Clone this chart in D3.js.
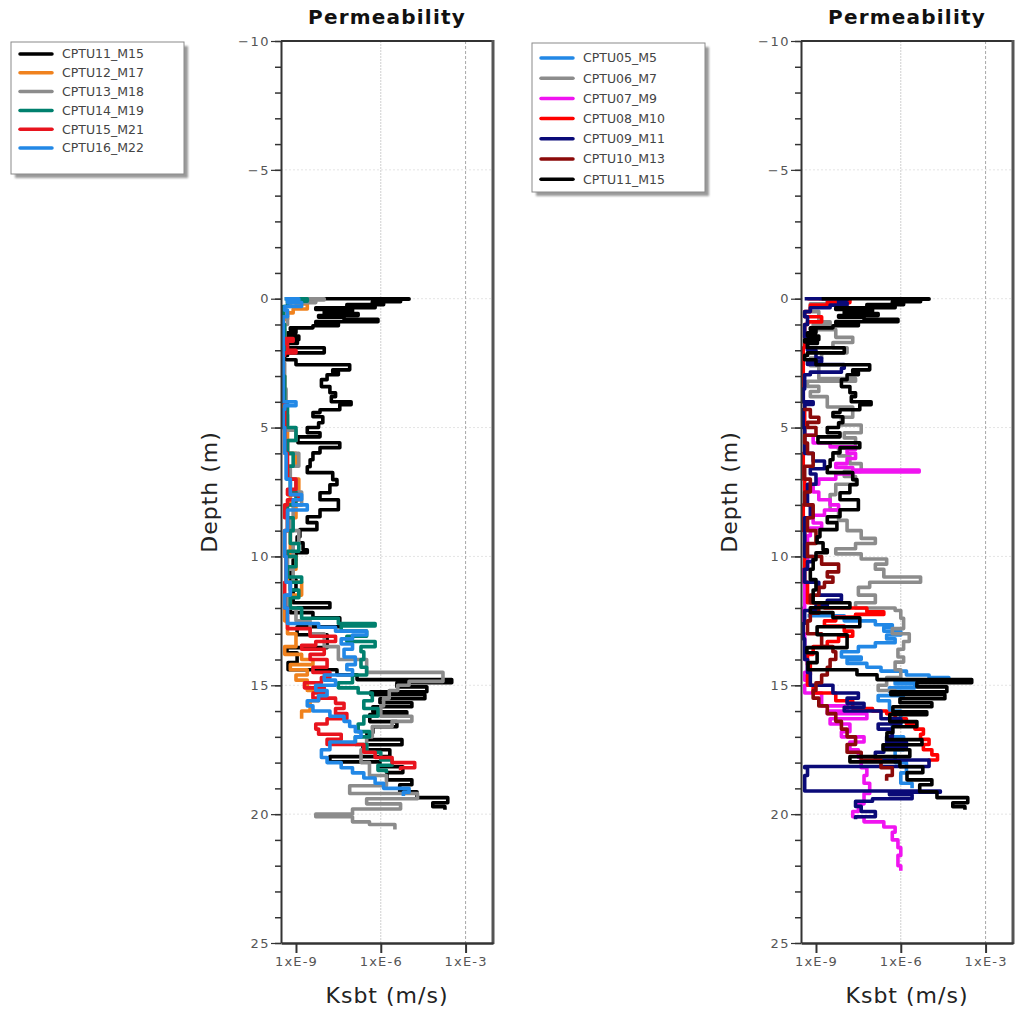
<!DOCTYPE html>
<html>
<head>
<meta charset="utf-8">
<script src="https://cdn.jsdelivr.net/npm/d3@7"></script>
<style>
body { margin: 0; background: #fff; }
text { font-family: 'DejaVu Sans', sans-serif; }
</style>
</head>
<body>
<svg id="chart" width="1015" height="1012"></svg>
<script>
const depthTicks = [-10, -5, 0, 5, 10, 15, 20, 25]
const kTicks = [1e-9, 1e-6, 1e-3]
const kTickLabels = ['1xE-9', '1xE-6', '1xE-3']
const kGrid = [1e-6, 1e-3]

// [depth (m), log10 Ksbt (m/s)]
const cptu11_M15 = [[0.0,-8.8],[0.02,-5.0],[0.08,-5.6],[0.12,-5.3],[0.18,-6.3],[0.23,-5.9],[0.3,-7.2],[0.35,-6.2],[0.42,-8.3],[0.5,-7.0],[0.58,-8.0],[0.65,-6.8],[0.72,-8.2],[0.8,-7.3],[0.89,-6.1],[0.95,-8.3],[1.05,-7.5],[1.13,-8.4],[1.2,-9.2],[1.32,-9.0],[1.45,-9.3],[1.59,-8.9],[1.68,-9.4],[1.74,-8.95],[1.9,-9.3],[2.1,-8.0],[2.2,-9.3],[2.37,-9.4],[2.56,-9.0],[2.76,-7.1],[2.85,-7.7],[2.95,-7.5],[3.14,-7.9],[3.41,-8.1],[3.65,-7.8],[3.8,-7.6],[4.0,-7.75],[4.11,-7.05],[4.31,-7.45],[4.42,-8.15],[4.58,-8.4],[4.81,-8.05],[5.0,-8.2],[5.2,-8.6],[5.36,-8.15],[5.59,-8.93],[5.78,-7.45],[5.98,-8.15],[6.25,-8.4],[6.52,-8.5],[6.75,-8.6],[7.02,-7.7],[7.22,-7.55],[7.53,-7.8],[7.8,-8.15],[8.19,-7.5],[8.46,-8.15],[8.69,-8.6],[8.96,-8.26],[9.24,-8.86],[9.47,-8.96],[9.74,-8.75],[9.86,-8.6],[10.13,-9.0],[10.5,-9.1],[10.9,-9.2],[11.3,-9.0],[11.8,-9.1],[11.99,-7.8],[12.18,-9.2],[12.38,-8.4],[12.73,-7.45],[13.04,-8.96],[13.54,-7.9],[13.74,-9.32],[14.12,-8.96],[14.4,-9.28],[14.59,-7.55],[14.78,-6.84],[14.9,-3.49],[15.06,-5.43],[15.25,-4.37],[15.37,-6.35],[15.52,-4.44],[15.68,-6.03],[15.83,-4.9],[16.03,-6.28],[16.14,-5.08],[16.41,-6.39],[16.61,-5.43],[16.84,-6.28],[17.11,-6.49],[17.31,-5.25],[17.5,-6.63],[17.77,-5.68],[17.97,-7.8],[18.16,-6.03],[18.39,-5.22],[18.67,-5.78],[18.86,-4.9],[19.13,-5.33],[19.36,-4.72],[19.56,-3.63],[19.71,-4.16],[19.83,-3.73]]

const cptu12_M17 = [[0,-9.3],[0.2,-9.0],[0.4,-8.6],[0.55,-9.1],[0.8,-9.3],[1.2,-9.45],[2.0,-9.4],[3.0,-9.45],[4.0,-9.4],[5.0,-9.45],[6.0,-9.3],[6.5,-9.0],[7.0,-9.3],[7.5,-8.9],[8.0,-9.2],[8.5,-9.0],[9.0,-9.3],[10.0,-9.2],[10.5,-9.0],[11.0,-9.3],[11.5,-8.8],[12.0,-9.2],[12.5,-9.4],[13.0,-9.3],[13.5,-9.0],[13.8,-9.4],[14.0,-8.8],[14.2,-8.4],[14.4,-9.2],[14.6,-8.6],[14.8,-9.0],[15.2,-8.6],[15.6,-8.2],[16.0,-8.5],[16.3,-8.8]]

const cptu13_M18 = [[0,-9.3],[0.05,-8.0],[0.15,-8.3],[0.3,-9.2],[0.6,-9.4],[1.0,-9.3],[1.5,-9.4],[2.5,-9.45],[3.5,-9.4],[4.5,-9.35],[4.9,-9.3],[5.1,-9.4],[5.5,-9.0],[6.0,-9.3],[6.5,-8.9],[7.0,-9.2],[7.5,-9.0],[8.0,-8.8],[8.5,-9.1],[9.0,-9.2],[9.5,-8.9],[10.0,-9.1],[10.5,-9.3],[11.0,-9.1],[11.5,-9.2],[12.0,-9.3],[12.5,-9.0],[13.0,-8.5],[13.5,-8.0],[14.0,-7.5],[14.5,-6.5],[14.85,-3.8],[15.0,-5.0],[15.2,-5.4],[15.5,-5.7],[15.8,-5.9],[16.2,-6.0],[16.4,-4.9],[16.6,-5.6],[17.0,-6.3],[17.5,-6.5],[18.0,-6.7],[18.5,-6.4],[18.9,-5.8],[19.2,-7.1],[19.4,-4.7],[19.6,-6.5],[19.8,-5.3],[20.0,-7.0],[20.1,-8.3],[20.3,-7.0],[20.4,-6.4],[20.6,-5.5]]

const cptu14_M19 = [[0,-9.4],[0.1,-8.6],[0.3,-9.3],[1.0,-9.45],[2.0,-9.4],[3.0,-9.45],[4.0,-9.4],[5.0,-9.3],[5.5,-9.0],[6.0,-9.3],[6.5,-9.1],[7.0,-9.3],[7.5,-9.2],[8.0,-9.0],[8.5,-9.3],[9.0,-9.1],[9.5,-9.2],[9.8,-8.9],[10.0,-9.3],[10.4,-9.0],[10.8,-9.3],[11.0,-8.8],[11.3,-9.2],[11.6,-8.9],[12.0,-9.2],[12.4,-8.8],[12.6,-7.5],[12.7,-6.2],[12.9,-7.4],[13.1,-6.5],[13.3,-7.2],[13.5,-6.2],[13.7,-6.7],[14.0,-6.6],[14.3,-6.7],[14.6,-6.5],[14.9,-7.0],[15.1,-7.5],[15.3,-6.8],[15.6,-6.3],[15.9,-6.6],[16.2,-6.1],[16.5,-6.6],[16.8,-6.8],[17.0,-6.4],[17.3,-6.9],[17.6,-6.5],[17.9,-6.0],[18.1,-5.6],[18.3,-6.1],[18.4,-5.8]]

const cptu15_M21 = [[1.55,-9.4],[1.65,-9.1],[1.75,-9.4],[2.0,-9.3],[2.1,-9.0],[2.2,-9.4],[3.0,-9.45],[4.0,-9.45],[5.0,-9.4],[6.0,-9.4],[7.0,-9.3],[7.4,-9.0],[7.6,-9.3],[7.8,-8.9],[8.0,-9.3],[8.5,-9.4],[9.0,-9.3],[10.0,-9.4],[11.0,-9.35],[12.0,-9.4],[12.8,-9.3],[13.1,-8.5],[13.3,-7.6],[13.45,-8.3],[13.6,-8.8],[13.8,-8.0],[14.0,-8.5],[14.3,-7.9],[14.5,-8.4],[14.7,-7.8],[14.9,-8.1],[15.1,-8.7],[15.3,-8.0],[15.5,-8.4],[15.7,-7.6],[15.9,-7.3],[16.1,-7.6],[16.3,-7.2],[16.5,-7.9],[16.7,-8.3],[16.9,-8.2],[17.1,-7.4],[17.3,-7.9],[17.6,-6.6],[17.8,-6.2],[18.0,-5.6],[18.2,-4.8],[18.3,-5.3]]

const cptu16_M22 = [[0,-9.4],[0.05,-8.9],[0.15,-9.3],[0.3,-8.8],[0.45,-9.4],[0.7,-9.3],[1.0,-9.45],[2.0,-9.45],[3.0,-9.45],[4.0,-9.45],[4.15,-9.0],[4.3,-9.4],[5.0,-9.45],[6.0,-9.4],[7.0,-9.35],[7.6,-9.2],[7.8,-8.8],[8.0,-9.1],[8.2,-8.6],[8.35,-9.3],[9.0,-9.3],[10.0,-9.4],[11.0,-9.35],[11.5,-9.2],[12.0,-9.4],[12.6,-9.3],[12.75,-8.2],[12.9,-7.6],[13.05,-6.5],[13.2,-7.0],[13.4,-7.4],[13.6,-7.0],[13.9,-7.3],[14.2,-6.9],[14.4,-7.2],[14.6,-7.0],[14.8,-8.0],[15.0,-7.6],[15.2,-8.3],[15.4,-7.9],[15.6,-8.2],[15.8,-8.6],[16.0,-8.4],[16.2,-7.8],[16.4,-7.3],[16.6,-7.1],[16.8,-6.9],[17.0,-6.7],[17.2,-6.9],[17.5,-7.8],[17.8,-8.1],[18.0,-7.9],[18.2,-7.4],[18.4,-7.0],[18.6,-6.6],[18.8,-6.2],[19.0,-5.9],[19.15,-5.0],[19.3,-5.2]]

const cptu05_M5 = [[12.3,-9.3],[12.5,-8.0],[12.65,-6.9],[12.75,-6.3],[12.9,-6.6],[13.05,-6.0],[13.2,-6.5],[13.35,-6.2],[13.5,-6.9],[13.7,-7.5],[13.9,-8.1],[14.0,-7.4],[14.15,-7.9],[14.3,-7.2],[14.45,-6.7],[14.6,-5.8],[14.7,-5.0],[14.82,-4.3],[14.95,-6.2],[15.1,-5.5],[15.25,-6.4],[15.4,-5.9],[15.6,-6.8],[16.0,-6.4],[16.5,-6.0],[17.0,-6.3],[17.5,-5.9],[18.0,-6.2],[18.4,-5.8],[18.8,-6.0],[19.0,-5.6]]

const cptu06_M7 = [[0,-8.9],[0.05,-7.8],[0.2,-8.6],[0.5,-9.2],[0.9,-8.9],[1.0,-8.5],[1.2,-9.1],[1.5,-8.3],[1.7,-7.7],[1.9,-8.4],[2.1,-7.9],[2.3,-8.8],[2.6,-9.2],[3.1,-8.9],[3.2,-7.6],[3.4,-9.3],[3.6,-8.9],[3.8,-9.2],[4.2,-8.6],[4.6,-7.7],[4.9,-8.1],[5.2,-7.4],[5.4,-8.0],[5.8,-7.6],[6.1,-8.2],[6.4,-7.8],[6.7,-7.4],[6.9,-8.0],[7.2,-7.6],[7.6,-8.3],[8.2,-8.5],[8.6,-8.2],[9.0,-7.9],[9.3,-7.4],[9.5,-6.9],[9.7,-7.6],[9.9,-8.3],[10.1,-7.4],[10.3,-6.5],[10.5,-6.9],[10.8,-6.6],[11.0,-5.3],[11.2,-7.1],[11.5,-7.5],[11.8,-6.9],[12.0,-7.6],[12.1,-6.2],[12.4,-6.0],[12.8,-5.9],[13.0,-6.3],[13.3,-5.7],[13.6,-5.9],[13.9,-6.1],[14.1,-5.9],[14.4,-6.2],[14.7,-6.0],[15.0,-6.5],[15.2,-6.8],[15.4,-6.2]]

const cptu07_M9 = [[5.3,-9.4],[5.6,-9.1],[5.75,-8.5],[5.85,-7.6],[6.0,-7.9],[6.2,-7.6],[6.4,-7.9],[6.55,-8.3],[6.65,-7.7],[6.72,-5.35],[6.8,-7.7],[7.0,-8.3],[7.2,-8.9],[7.5,-9.1],[7.8,-8.9],[8.0,-8.5],[8.2,-8.2],[8.4,-8.7],[8.7,-9.1],[8.9,-8.8],[9.2,-9.2],[9.5,-9.3],[10.0,-9.4],[10.5,-9.3],[11.0,-9.45],[12.0,-9.4],[13.0,-9.45],[14.0,-9.4],[14.5,-9.3],[14.8,-9.4],[15.0,-9.3],[15.3,-9.4],[15.8,-8.8],[16.0,-7.9],[16.1,-8.6],[16.3,-7.2],[16.5,-8.5],[16.8,-7.8],[17.0,-8.1],[17.2,-7.3],[17.5,-7.8],[17.8,-7.5],[18.2,-7.4],[18.5,-7.2],[18.8,-7.3],[19.2,-7.1],[19.6,-7.3],[19.9,-7.5],[20.1,-7.7],[20.3,-7.3],[20.5,-6.6],[20.7,-6.2],[21.0,-6.3],[21.3,-6.1],[21.6,-6.0],[22.0,-6.1],[22.2,-6.0]]

const cptu08_M10 = [[0,-9.3],[0.05,-8.3],[0.15,-7.8],[0.25,-8.6],[0.5,-9.2],[0.7,-9.4],[0.9,-8.8],[1.0,-9.3],[1.5,-9.4],[1.7,-9.0],[1.9,-9.4],[3.0,-9.45],[4.0,-9.45],[5.0,-9.4],[6.0,-9.4],[7.0,-9.45],[8.0,-9.4],[9.0,-9.45],[10.0,-9.4],[11.0,-9.4],[11.8,-9.3],[12.0,-8.7],[12.15,-7.2],[12.25,-6.6],[12.35,-7.6],[12.5,-8.3],[12.7,-8.7],[12.9,-8.0],[13.1,-7.7],[13.3,-8.2],[13.5,-8.6],[13.8,-9.1],[14.2,-9.3],[14.6,-9.2],[15.0,-9.3],[15.3,-9.1],[15.6,-8.3],[15.9,-7.7],[16.0,-7.0],[16.1,-6.5],[16.3,-6.2],[16.5,-5.8],[16.7,-5.5],[16.9,-5.2],[17.1,-5.3],[17.3,-5.0],[17.5,-5.2],[17.7,-4.9],[17.9,-4.7],[18.0,-5.0]]

const cptu09_M11 = [[0,-9.4],[0.05,-7.9],[0.15,-8.2],[0.25,-7.9],[0.35,-8.5],[0.5,-9.2],[0.7,-9.4],[1.0,-9.3],[1.5,-9.4],[2.0,-9.3],[2.3,-9.0],[2.45,-8.8],[2.55,-9.3],[2.7,-8.0],[2.85,-8.1],[2.95,-9.2],[3.5,-9.4],[4.0,-9.45],[4.1,-9.1],[4.3,-9.4],[5.0,-9.45],[6.0,-9.4],[6.3,-9.1],[6.6,-8.7],[6.8,-9.2],[7.2,-9.0],[8.0,-9.3],[8.5,-9.2],[9.0,-9.4],[10.0,-9.4],[10.2,-9.1],[10.5,-9.3],[11.0,-9.4],[11.5,-8.9],[11.7,-8.1],[11.9,-8.6],[12.1,-9.0],[12.6,-9.4],[13.2,-9.45],[14.0,-9.4],[14.5,-9.3],[15.0,-9.2],[15.3,-8.4],[15.5,-7.5],[15.7,-7.9],[15.85,-7.3],[16.0,-8.0],[16.3,-6.7],[16.5,-6.0],[16.7,-6.8],[17.0,-6.3],[17.2,-6.5],[17.4,-5.8],[17.6,-6.6],[17.9,-6.9],[18.15,-5.0],[18.2,-9.4],[18.5,-9.3],[18.8,-9.4],[19.1,-9.4],[19.15,-4.6],[19.25,-6.4],[19.4,-5.6],[19.5,-7.0],[19.7,-7.6],[19.9,-7.4],[20.1,-6.9],[20.2,-7.6]]

const cptu10_M13 = [[4.3,-9.45],[4.6,-9.2],[4.8,-8.9],[5.0,-9.3],[5.3,-9.0],[5.6,-9.4],[6.0,-9.3],[6.5,-9.1],[7.0,-9.4],[7.5,-9.2],[8.0,-9.4],[8.5,-9.1],[9.0,-9.3],[9.5,-9.0],[10.0,-9.3],[10.3,-8.8],[10.6,-8.2],[10.8,-8.6],[11.0,-8.4],[11.2,-8.7],[11.5,-8.9],[11.8,-9.2],[12.2,-8.9],[12.5,-9.2],[13.0,-9.3],[13.5,-8.8],[13.7,-8.4],[14.0,-8.3],[14.3,-8.5],[14.6,-8.6],[14.9,-8.8],[15.2,-9.0],[15.5,-9.1],[15.8,-8.9],[16.1,-8.6],[16.4,-8.3],[16.7,-8.1],[17.0,-7.9],[17.3,-7.6],[17.6,-7.9],[17.9,-7.4],[18.2,-6.7],[18.5,-6.3],[18.7,-6.5]]

const leftNames = ['CPTU11_M15', 'CPTU12_M17', 'CPTU13_M18', 'CPTU14_M19', 'CPTU15_M21', 'CPTU16_M22']
const leftValues = [cptu11_M15, cptu12_M17, cptu13_M18, cptu14_M19, cptu15_M21, cptu16_M22]
const leftColors = ['#000000', '#f0821e', '#8c8c8c', '#00806e', '#e8141e', '#2288e6']

const rightNames = ['CPTU05_M5', 'CPTU06_M7', 'CPTU07_M9', 'CPTU08_M10', 'CPTU09_M11', 'CPTU10_M13', 'CPTU11_M15']
const rightValues = [cptu05_M5, cptu06_M7, cptu07_M9, cptu08_M10, cptu09_M11, cptu10_M13, cptu11_M15]
const rightColors = ['#2288e6', '#8c8c8c', '#f014f0', '#ff0000', '#0a0a78', '#8b0a0a', '#000000']

const panels = [
	{ x0: 281, x1: 493, lx: 11, ly: 42, lw: 173, lh: 132, rowY: 54, rowH: 18.8, names: leftNames, values: leftValues, colors: leftColors },
	{ x0: 801, x1: 1013, lx: 532, ly: 43, lw: 173, lh: 149, rowY: 58, rowH: 20.2, names: rightNames, values: rightValues, colors: rightColors }
]

const plotTop = 41
const plotBottom = 943

const svg = d3.select('#chart')

const defs = svg.append('defs')
defs.append('filter').attr('id', 'blur')
	.append('feGaussianBlur').attr('stdDeviation', 1.2)

const y = d3.scaleLinear()
	.domain([-10, 25])
	.range([plotTop, plotBottom])

panels.forEach((p, pi) => {
	const x = d3.scaleLog()
		.domain([Math.pow(10, -9.53), Math.pow(10, -2.03)])
		.range([p.x0, p.x1])

	const g = svg.append('g')

	defs.append('clipPath').attr('id', 'clip' + pi)
		.append('rect')
		.attr('x', p.x0 + 1).attr('y', plotTop)
		.attr('width', p.x1 - p.x0 - 1).attr('height', plotBottom - plotTop)

	// grid
	g.selectAll('.hgrid')
		.data(depthTicks.slice(1, -1))
		.enter()
		.append('line')
		.attr('x1', p.x0).attr('x2', p.x1)
		.attr('y1', d => y(d)).attr('y2', d => y(d))
		.attr('stroke', '#e4e4e4')
		.attr('stroke-dasharray', '2,2')

	g.selectAll('.vgrid')
		.data(kGrid)
		.enter()
		.append('line')
		.attr('x1', d => x(d)).attr('x2', d => x(d))
		.attr('y1', plotTop).attr('y2', plotBottom)
		.attr('stroke', (d, i) => i === 0 ? '#cfcfcf' : '#a8a8a8')
		.attr('stroke-dasharray', (d, i) => i === 0 ? '2,1' : '3,2')

	// profiles
	const line = d3.line()
		.x(d => x(Math.pow(10, d[1])))
		.y(d => y(d[0]))
		.curve(d3.curveStepAfter)

	g.append('g')
		.attr('clip-path', 'url(#clip' + pi + ')')
		.selectAll('path')
		.data(p.values)
		.enter()
		.append('path')
		.attr('d', d => line(d))
		.attr('fill', 'none')
		.attr('stroke', (d, i) => p.colors[i])
		.attr('stroke-width', 3.6)
		.attr('stroke-linejoin', 'round')

	// frame
	g.append('line').attr('x1', p.x0).attr('x2', p.x1).attr('y1', plotTop).attr('y2', plotTop)
		.attr('stroke', '#333').attr('stroke-width', 2)
	g.append('line').attr('x1', p.x1).attr('x2', p.x1).attr('y1', plotTop - 1).attr('y2', plotBottom + 1)
		.attr('stroke', '#555').attr('stroke-width', 3)

	// axes
	const minor = g.append('g')
		.attr('transform', `translate(${p.x0},0)`)
		.call(d3.axisLeft(y).ticks(35).tickSize(6).tickFormat(''))
	minor.select('.domain').remove()
	minor.selectAll('line').attr('stroke', '#333').attr('stroke-width', 1.5)

	const yAxis = g.append('g')
		.attr('transform', `translate(${p.x0},0)`)
		.call(d3.axisLeft(y).tickValues(depthTicks).tickSize(10).tickSizeOuter(0).tickPadding(1))
	yAxis.select('.domain').attr('stroke', '#333').attr('stroke-width', 2)
	yAxis.selectAll('line').attr('stroke', '#333').attr('stroke-width', 1.2)
	yAxis.selectAll('text')
		.attr('fill', '#555')
		.style('font-size', '13px')
		.style('letter-spacing', '1.5px')

	const xAxis = g.append('g')
		.attr('transform', `translate(0,${plotBottom})`)
		.call(d3.axisBottom(x).tickValues(kTicks).tickFormat((d, i) => kTickLabels[i]).tickSize(10).tickSizeOuter(0).tickPadding(4))
	xAxis.select('.domain').attr('stroke', '#333').attr('stroke-width', 2.5)
	xAxis.selectAll('line').attr('stroke', '#333').attr('stroke-width', 2)
	xAxis.selectAll('text')
		.attr('fill', '#555')
		.style('font-size', '13px')
		.style('letter-spacing', '1.2px')

	const cx = (p.x0 + p.x1) / 2

	g.append('text')
		.attr('x', cx).attr('y', 24)
		.attr('text-anchor', 'middle')
		.style('font-size', '20px')
		.style('font-weight', 'bold')
		.style('letter-spacing', '1.2px')
		.attr('fill', '#111')
		.text('Permeability')

	g.append('text')
		.attr('x', cx).attr('y', 1003)
		.attr('text-anchor', 'middle')
		.style('font-size', '22px')
		.style('letter-spacing', '1px')
		.attr('fill', '#222')
		.text('Ksbt (m/s)')

	g.append('text')
		.attr('transform', `translate(${p.x0 - 64},492) rotate(-90)`)
		.attr('text-anchor', 'middle')
		.style('font-size', '22px')
		.style('letter-spacing', '1px')
		.attr('fill', '#222')
		.text('Depth (m)')

	// legend
	const lg = svg.append('g')
	lg.append('rect')
		.attr('x', p.lx + 4).attr('y', p.ly + 4)
		.attr('width', p.lw).attr('height', p.lh)
		.attr('fill', '#9a9a9a')
		.attr('filter', 'url(#blur)')
	lg.append('rect')
		.attr('x', p.lx).attr('y', p.ly)
		.attr('width', p.lw).attr('height', p.lh)
		.attr('fill', '#fff')
		.attr('stroke', '#8a8a8a')

	const rows = lg.selectAll('.row')
		.data(p.names)
		.enter()
		.append('g')
		.attr('transform', (d, i) => `translate(${p.lx},${p.rowY + i * p.rowH})`)

	rows.append('line')
		.attr('x1', 9).attr('x2', 41)
		.attr('stroke', (d, i) => p.colors[i])
		.attr('stroke-width', 3.5)
		.attr('stroke-linecap', 'round')

	rows.append('text')
		.attr('x', 51).attr('dy', '0.35em')
		.style('font-size', '12.5px')
		.attr('fill', '#444')
		.text(d => d)
})
</script>
</body>
</html>
